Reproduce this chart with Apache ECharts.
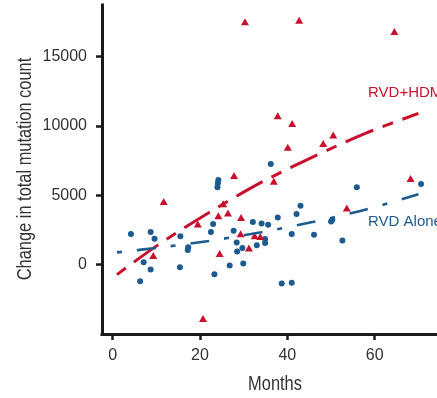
<!DOCTYPE html>
<html>
<head>
<meta charset="utf-8">
<script src="https://cdn.jsdelivr.net/npm/echarts@6/dist/echarts.min.js"></script>
<style>
  html, body { margin: 0; padding: 0; background: #fff; }
  #chart { width: 437px; height: 398px; }
</style>
</head>
<body>
<div id="chart"></div>
<script>
// RVD Alone: months vs change in total mutation count
const aloneMonths = [4.2, 8.7, 9.6, 7.1, 8.7, 6.3, 15.5, 15.4, 17.3, 17.2, 22.5, 23.0, 23.3,
  24.2, 24.1, 24.0, 27.7, 28.4, 28.5, 29.7, 26.8, 29.9, 32.1, 34.1, 35.6, 33.0, 34.9, 34.9,
  36.2, 37.8, 38.7, 41.0, 41.0, 42.1, 43.0, 46.1, 50.0, 50.3, 52.6, 55.9, 70.6];
const aloneCounts = [2210, 2350, 1870, 170, -360, -1200, 2040, -190, 1250, 1060, 2350, 2920, -700,
  6100, 5860, 5580, 2440, 1600, 950, 1200, -70, 70, 3060, 2960, 2870, 1390, 1840, 1560,
  7250, 3400, -1360, -1310, 2200, 3640, 4230, 2150, 3110, 3230, 1740, 5580, 5810];

// RVD+HDM: months vs change in total mutation count
const hdmMonths = [9.3, 11.7, 19.5, 20.7, 24.2, 24.5, 25.3, 26.4, 27.8, 29.3, 29.4, 30.3, 31.2,
  32.5, 33.8, 36.9, 37.8, 40.1, 41.1, 42.7, 48.2, 50.5, 53.6, 64.5, 68.2];
const hdmCounts = [650, 4550, 2920, -3880, 3520, 790, 4380, 3710, 6410, 2220, 3400, 17500, 1200,
  2080, 2030, 6000, 10720, 8450, 10170, 17600, 8730, 9330, 4070, 16800, 6200];

// Fitted trend curves
const aloneFitMonths = [1, 10, 22, 34, 46, 58, 70];
const aloneFitCounts = [880, 1200, 1700, 2330, 3080, 3970, 5070];
const hdmFitMonths = [1, 10, 22, 34, 46, 58, 70];
const hdmFitCounts = [-720, 1330, 3740, 5920, 7780, 9470, 10890];

// Axis ticks
const monthTicks = [0, 20, 40, 60];
const countTicks = [0, 5000, 10000, 15000];

const RED = '#c8102e';
const BLUE = '#1b5b8f';
const AXIS = '#1a1a1a';
const TEXT = '#333333';
const SANS = "'Liberation Sans', Arial, sans-serif";

const pairs = (xs, ys) => xs.map((x, i) => [x, ys[i]]);

const chart = echarts.init(document.getElementById('chart'), null, { renderer: 'canvas' });

chart.setOption({
  animation: false,
  backgroundColor: '#ffffff',
  grid: { left: 102, right: -12, top: 5, bottom: 64, containLabel: false },
  xAxis: {
    type: 'value',
    min: -2.43,
    max: 74.25,
    axisLine: { show: true, onZero: false, lineStyle: { color: AXIS, width: 3, cap: 'square' } },
    axisTick: { show: true, length: 6, lineStyle: { color: AXIS, width: 2.5 }, customValues: monthTicks },
    axisLabel: { customValues: monthTicks, margin: 14, fontFamily: SANS, fontSize: 16, color: TEXT,
      formatter: v => String(v) },
    splitLine: { show: false }
  },
  yAxis: {
    type: 'value',
    min: -5000,
    max: 18700,
    axisLine: { show: true, onZero: false, lineStyle: { color: AXIS, width: 3, cap: 'square' } },
    axisTick: { show: true, length: 6, lineStyle: { color: AXIS, width: 2.5 }, customValues: countTicks },
    axisLabel: { customValues: countTicks, margin: 15, fontFamily: SANS, fontSize: 16, color: TEXT,
      formatter: v => String(v) },
    splitLine: { show: false }
  },
  series: [
    {
      name: 'RVD Alone',
      type: 'scatter',
      symbol: 'circle',
      symbolSize: 6,
      itemStyle: { color: BLUE, opacity: 1 },
      data: pairs(aloneMonths, aloneCounts),
      z: 2
    },
    {
      name: 'RVD+HDM',
      type: 'scatter',
      symbol: 'triangle',
      symbolSize: [8, 7],
      itemStyle: { color: RED, opacity: 1 },
      data: pairs(hdmMonths, hdmCounts),
      z: 2
    },
    {
      name: 'RVD+HDM fit',
      type: 'line',
      smooth: 0.3,
      symbol: 'none',
      lineStyle: { color: RED, width: 3, type: [11, 10, 30, 10] },
      data: pairs(hdmFitMonths, hdmFitCounts),
      z: 3
    },
    {
      name: 'RVD Alone fit',
      type: 'line',
      smooth: 0.3,
      symbol: 'none',
      lineStyle: { color: BLUE, width: 2.6, type: [5, 15, 19, 15] },
      data: pairs(aloneFitMonths, aloneFitCounts),
      z: 3
    }
  ],
  graphic: [
    // Axis titles set in a condensed face
    {
      type: 'text',
      x: 275,
      y: 384,
      scaleX: 0.82,
      style: { text: 'Months', fill: TEXT, font: "20px 'Liberation Sans', Arial, sans-serif",
        align: 'center', verticalAlign: 'middle' }
    },
    {
      type: 'text',
      x: 25,
      y: 169,
      rotation: Math.PI / 2,
      scaleX: 0.82,
      style: { text: 'Change in total mutation count', fill: TEXT,
        font: "20px 'Liberation Sans', Arial, sans-serif", align: 'center', verticalAlign: 'middle' }
    },
    // Curve labels
    {
      type: 'text',
      x: 368,
      y: 93,
      style: { text: 'RVD+HDM', fill: RED, font: "15px 'Liberation Sans', Arial, sans-serif",
        verticalAlign: 'middle' }
    },
    {
      type: 'text',
      x: 368,
      y: 222,
      style: { text: 'RVD Alone', fill: BLUE, font: "15px 'Liberation Sans', Arial, sans-serif",
        verticalAlign: 'middle' }
    }
  ]
});
</script>
</body>
</html>
